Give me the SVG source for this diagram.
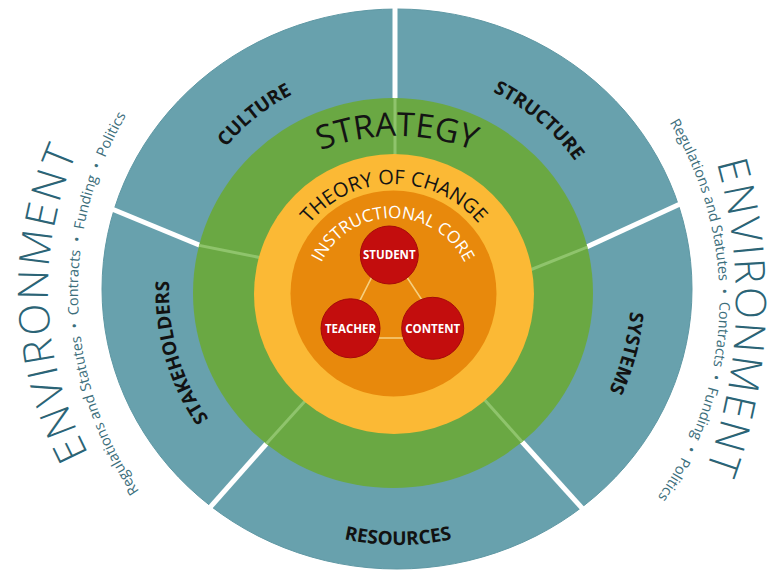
<svg xmlns="http://www.w3.org/2000/svg" width="779" height="583" viewBox="0 0 779 583">
<defs>
<style>
.sans{font-family:"Open Sans","Liberation Sans","DejaVu Sans",sans-serif}
.label{font-weight:700;font-size:19px;fill:#121212}
.env{font-weight:300;font-size:42px;fill:#2b6476;letter-spacing:2.5px}
.envs{font-weight:400;font-size:14.5px;fill:#3c6e7b}
.divw{stroke:#ffffff;stroke-width:5;fill:none}
.divg{stroke:#8fc46c;stroke-width:3;fill:none}
.core{fill:#c30d0d;stroke:#a40a0a;stroke-width:1}
.corelab{font-weight:700;font-size:11.5px;fill:#ffffff;text-anchor:middle}
.link{stroke:#f6cf7e;stroke-width:1.6;fill:none}
</style>
<clipPath id="clipGreen"><ellipse cx="393" cy="293" rx="200" ry="195"/></clipPath>
<path id="p-culture" d="M221.5,429.5 A222,222 0 0 1 568.5,152.5"/>
<path id="p-structure" d="M225.4,147.7 A222,222 0 0 1 564.6,434.3"/>
<path id="p-systems" d="M456.1,63 A236,236 0 0 1 333.9,519"/>
<path id="p-stakeholders" d="M457.3,508.3 A226,226 0 0 1 332.7,73.7"/>
<path id="p-resources" d="M144,291 A254,254 0 0 0 652,291"/>
<path id="p-strategy" d="M187,346 A210,210 0 0 1 607,346"/>
<path id="p-theory" d="M284,294 A110,110 0 0 1 504,294"/>
<path id="p-core" d="M313,298 A80,80 0 0 1 473,298"/>
<path id="p-env-left" d="M407.1,637.8 A347,347 0 0 1 382.9,-55.8"/>
<path id="p-env-right" d="M264.6,-196.6 A497,497 0 0 1 227.4,796.6"/>
<path id="p-envs-left" d="M441.2,643.8 A351,351 0 0 1 416.8,-57.8"/>
<path id="p-envs-right" d="M391.8,-41.8 A343,343 0 0 1 370.2,643.8"/>
</defs>
<rect width="779" height="583" fill="#ffffff"/>

<g id="outer-ring">
<ellipse cx="397" cy="289" rx="295" ry="280" fill="#68a1ad" stroke="#5f98a4" stroke-width="1"/>
<line class="divw" x1="395" y1="0" x2="395" y2="105"/>
<line class="divw" x1="95" y1="202" x2="210" y2="249.5"/>
<line class="divw" x1="692" y1="198.5" x2="580" y2="250"/>
<line class="divw" x1="190" y1="530" x2="275" y2="434"/>
<line class="divw" x1="600" y1="528" x2="515" y2="434"/>
</g>

<g id="culture"><text class="sans label"><textPath href="#p-culture" startOffset="50%" text-anchor="middle">CULTURE</textPath></text></g>
<g id="structure"><text class="sans label"><textPath href="#p-structure" startOffset="50%" text-anchor="middle">STRUCTURE</textPath></text></g>
<g id="systems"><text class="sans label"><textPath href="#p-systems" startOffset="50%" text-anchor="middle">SYSTEMS</textPath></text></g>
<g id="resources"><text class="sans label"><textPath href="#p-resources" startOffset="50%" text-anchor="middle">RESOURCES</textPath></text></g>
<g id="stakeholders"><text class="sans label"><textPath href="#p-stakeholders" startOffset="50%" text-anchor="middle">STAKEHOLDERS</textPath></text></g>

<g id="strategy">
<ellipse cx="393" cy="293" rx="200" ry="195" fill="#6aa843"/>
<g clip-path="url(#clipGreen)">
<line class="divg" x1="395" y1="90" x2="395" y2="170"/>
<line class="divg" x1="190" y1="243.5" x2="270" y2="259.6"/>
<line class="divg" x1="600" y1="242" x2="520" y2="274"/>
<line class="divg" x1="258" y1="453" x2="315" y2="390"/>
<line class="divg" x1="532" y1="453" x2="474" y2="388"/>
</g>
<text class="sans" font-size="33" fill="#141414"><textPath href="#p-strategy" startOffset="50%" text-anchor="middle">STRATEGY</textPath></text>
</g>

<g id="theory-of-change">
<circle cx="394" cy="294" r="140" fill="#fbb935"/>
<text class="sans" font-size="20" fill="#141414"><textPath href="#p-theory" startOffset="50%" text-anchor="middle">THEORY OF CHANGE</textPath></text>
</g>

<g id="instructional-core">
<circle cx="393.5" cy="293.5" r="103" fill="#e8890c"/>
<text class="sans" font-size="17" fill="#ffffff"><textPath href="#p-core" startOffset="50%" text-anchor="middle">INSTRUCTIONAL CORE</textPath></text>
</g>

<g id="connectors">
<polygon class="link" points="387,247 341,338 447,338"/>
</g>

<g id="student">
<circle class="core" cx="389.3" cy="255" r="29"/>
<text class="sans corelab" x="389.3" y="259.2">STUDENT</text>
</g>
<g id="teacher">
<circle class="core" cx="350.5" cy="328.3" r="29.5"/>
<text class="sans corelab" x="350.5" y="332.5">TEACHER</text>
</g>
<g id="content">
<circle class="core" cx="432.7" cy="328.3" r="31"/>
<text class="sans corelab" x="432.7" y="332.5">CONTENT</text>
</g>

<g id="environment-left">
<text class="sans env"><textPath href="#p-env-left" startOffset="50%" text-anchor="middle">ENVIRONMENT</textPath></text>
<text class="sans envs"><textPath href="#p-envs-left" startOffset="50%" text-anchor="middle">Regulations and Statutes&#160;&#160;•&#160;&#160;Contracts&#160;&#160;•&#160;&#160;Funding&#160;&#160;•&#160;&#160;Politics</textPath></text>
</g>

<g id="environment-right">
<text class="sans env"><textPath href="#p-env-right" startOffset="50%" text-anchor="middle">ENVIRONMENT</textPath></text>
<text class="sans envs"><textPath href="#p-envs-right" startOffset="50%" text-anchor="middle">Regulations and Statutes&#160;&#160;•&#160;&#160;Contracts&#160;&#160;•&#160;&#160;Funding&#160;&#160;•&#160;&#160;Politics</textPath></text>
</g>
</svg>
